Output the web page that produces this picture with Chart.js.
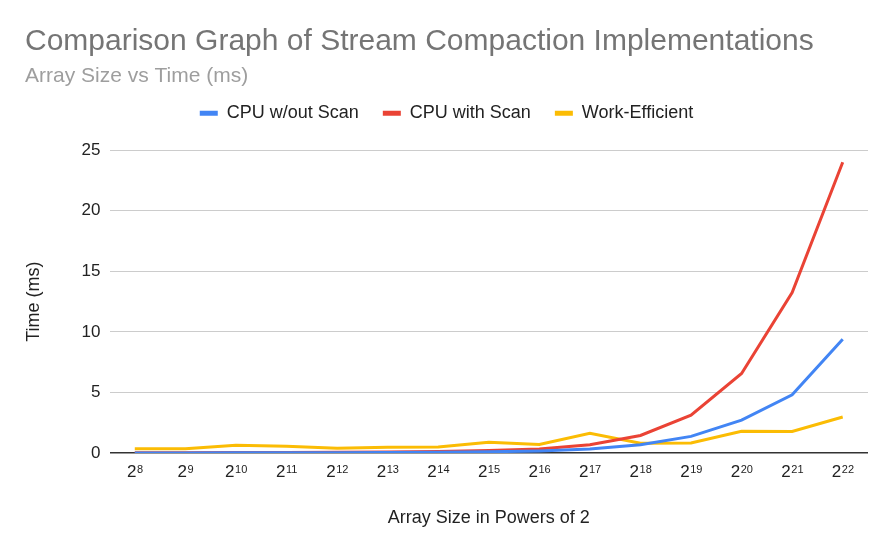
<!DOCTYPE html>
<html>
<head>
<meta charset="utf-8">
<script src="https://cdn.jsdelivr.net/npm/chart.js@4/dist/chart.umd.min.js"></script>
<style>
html,body{margin:0;padding:0;background:#fff;}
#wrap{width:889px;height:544px;position:relative;}
</style>
</head>
<body>
<div id="wrap"><canvas id="c" width="889" height="544"></canvas></div>
<script>
const categories = ["2⁸","2⁹","2¹⁰","2¹¹","2¹²","2¹³","2¹⁴","2¹⁵","2¹⁶","2¹⁷","2¹⁸","2¹⁹","2²⁰","2²¹","2²²"];
const cpuNoScan = [0.01,0.01,0.02,0.02,0.03,0.04,0.06,0.1,0.17,0.33,0.68,1.37,2.72,4.81,9.4];
const cpuScan = [0.02,0.03,0.04,0.05,0.06,0.08,0.12,0.2,0.33,0.68,1.45,3.13,6.57,13.25,24.0];
const workEfficient = [0.36,0.35,0.64,0.56,0.39,0.47,0.5,0.89,0.71,1.62,0.8,0.83,1.8,1.78,2.97];
const yTicks = [0,5,10,15,20,25];

const FONT = "Arial, 'Liberation Sans', sans-serif";
const SUP = "⁰¹²³⁴⁵⁶⁷⁸⁹";
function ds(label, data, color){
  return {label, data, borderColor: color, backgroundColor: color, borderWidth: 3,
          pointRadius: 0, pointHoverRadius: 0, tension: 0, fill: false};
}
// draws x tick labels as base + smaller raised exponent
const supLabels = {
  id: 'supLabels',
  afterDraw(chart){
    const xs = chart.scales.x, ctx = chart.ctx;
    ctx.save();
    ctx.fillStyle = '#222';
    ctx.textBaseline = 'alphabetic';
    ctx.textAlign = 'left';
    categories.forEach((lab, i) => {
      const base = lab[0];
      const exp = lab.slice(1).split('').map(c => { const k = SUP.indexOf(c); return k >= 0 ? String(k) : c; }).join('');
      ctx.font = "17px " + FONT;
      const wb = ctx.measureText(base).width;
      ctx.font = "11px " + FONT;
      const we = ctx.measureText(exp).width;
      const x0 = xs.getPixelForValue(i) - (wb + we) / 2;
      const yb = xs.top + 24;
      ctx.font = "17px " + FONT;
      ctx.fillText(base, x0, yb);
      ctx.font = "11px " + FONT;
      ctx.fillText(exp, x0 + wb + 0.5, yb - 4.5);
    });
    ctx.restore();
  }
};
const chart = new Chart(document.getElementById('c'), {
  type: 'line',
  data: {
    labels: categories,
    datasets: [
      ds('CPU w/out Scan', cpuNoScan, '#4285F4'),
      ds('CPU with Scan', cpuScan, '#EA4335'),
      ds('Work-Efficient', workEfficient, '#FBBC04')
    ]
  },
  plugins: [supLabels],
  options: {
    responsive: false,
    animation: false,
    layout: {padding: {left: 25, right: 21, top: 24, bottom: 11}},
    plugins: {
      title: {display: true, text: 'Comparison Graph of Stream Compaction Implementations',
              align: 'start', color: '#757575', font: {family: FONT, size: 30, weight: 'normal'},
              padding: {top: 0, bottom: 4}},
      subtitle: {display: true, text: 'Array Size vs Time (ms)', align: 'start', color: '#9e9e9e',
              font: {family: FONT, size: 21, weight: 'normal'}, padding: {top: 0, bottom: -9}},
      legend: {position: 'top', align: 'center',
        labels: {boxWidth: 18, boxHeight: 5, padding: 24, color: '#222',
          font: {family: FONT, size: 18},
          generateLabels: function(chart){
            const items = Chart.defaults.plugins.legend.labels.generateLabels(chart);
            items.forEach(i => { i.lineWidth = 0; });
            return items;
          }}},
      tooltip: {enabled: false}
    },
    scales: {
      x: {
        offset: true,
        grid: {display: false, drawTicks: false},
        border: {display: false},
        ticks: {color: 'rgba(0,0,0,0)', font: {family: FONT, size: 17}, maxRotation: 0, autoSkip: false, padding: 4},
        title: {display: true, text: 'Array Size in Powers of 2', color: '#222',
                font: {family: FONT, size: 18}, padding: {top: 26, bottom: 4}}
      },
      y: {
        min: 0, max: 25,
        afterBuildTicks: function(axis){ axis.ticks = yTicks.map(v => ({value: v})); },
        grid: {color: ctx => (ctx.tick && ctx.tick.value === 0) ? '#333' : '#cccccc',
               lineWidth: ctx => (ctx.tick && ctx.tick.value === 0) ? 1.5 : 1,
               drawTicks: false},
        border: {display: false},
        ticks: {color: '#222', font: {family: FONT, size: 17}, padding: 9},
        title: {display: true, text: 'Time (ms)', color: '#222',
                font: {family: FONT, size: 18}, padding: {top: -2, bottom: 28}}
      }
    }
  }
});
// extra space below the legend
const lg = chart.legend;
const origFit = lg.fit.bind(lg);
lg.fit = function(){ origFit(); this.height += 18; };
chart.update();
</script>
</body>
</html>
